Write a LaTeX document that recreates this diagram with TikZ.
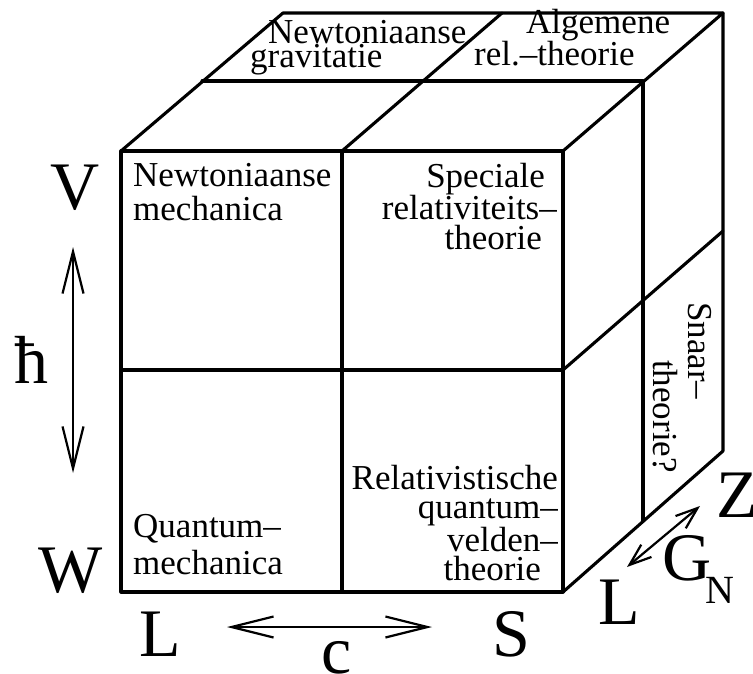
\documentclass[tikz,border=0pt]{standalone}
\usepackage{fontspec}
\setmainfont{Liberation Serif}
\usetikzlibrary{arrows.meta}
\begin{document}
\begin{tikzpicture}[x=1pt,y=-1pt,
  edge/.style={line width=3.1pt, line cap=round, line join=round},
  txt/.style={inner sep=0pt, font=\fontsize{35}{29}\selectfont},
  big/.style={inner sep=0pt, font=\fontsize{68}{68}\selectfont, anchor=base},
  bigarrow/.style={line width=2.2pt, {Straight Barb[length=42pt,width=21pt]}-{Straight Barb[length=42pt,width=21pt]}},
  smallarrow/.style={line width=2.2pt, {Straight Barb[length=22pt,width=16pt]}-{Straight Barb[length=22pt,width=16pt]}},
]
\useasboundingbox (0,0) rectangle (753,674);
% cube corners
\coordinate (ftl) at (121,151);
\coordinate (ftm) at (342,151);
\coordinate (ftr) at (563,151);
\coordinate (fml) at (121,370);
\coordinate (fmr) at (563,370);
\coordinate (fbl) at (121,592);
\coordinate (fbm) at (342,592);
\coordinate (fbr) at (563,592);
\coordinate (mtl) at (202,81);
\coordinate (mtr) at (643,81);
\coordinate (mbr) at (643,521);
\coordinate (btl) at (283,13);
\coordinate (btm) at (502,13);
\coordinate (btr) at (723,13);
\coordinate (bmr) at (723,231);
\coordinate (bbr) at (723,451);
% front face
\draw[edge] (ftl) rectangle (fbr);
\draw[edge] (ftm) -- (fbm);
\draw[edge] (fml) -- (fmr);
% top face
\draw[edge] (ftl) -- (btl) -- (btr) -- (ftr);
\draw[edge] (ftm) -- (btm);
\draw[edge] (mtl) -- (mtr);
% right face
\draw[edge] (btr) -- (bbr) -- (fbr);
\draw[edge] (mtr) -- (mbr);
\draw[edge] (fmr) -- (bmr);
% cell texts (anchored at the baseline of the last line)
\node[txt, anchor=base west, align=left, font=\fontsize{35}{35}\selectfont] (nm) at (133,221) {Newtoniaanse\\mechanica};
\node[txt, anchor=base east, align=right] (srt) at (557,249) {Speciale\hspace*{12pt}\\relativiteits–\\theorie\hspace*{15pt}};
\node[txt, anchor=base west, align=left, font=\fontsize{35}{37}\selectfont] (qm) at (133,574) {Quantum–\\mechanica};
\node[txt, anchor=base east, align=right] (rqv) at (558,580) {Relativistische\\quantum–\\velden–\hspace*{10pt}\\theorie\hspace*{17pt}};
\node[txt, anchor=base west, align=left, font=\fontsize{35}{23}\selectfont] (ng) at (250,68) {\hspace*{18pt}Newtoniaanse\\gravitatie};
\node[txt, anchor=base west, align=left, font=\fontsize{35}{26}\selectfont] (ar) at (474,66) {\hspace*{52pt}Algemene\\rel.–theorie};
\node[txt, rotate=-90, anchor=base west, align=left, font=\fontsize{35}{35}\selectfont] (st) at (653,302) {Snaar–\\\hspace*{58pt}theorie?};
% axis letters
\node[big] (V) at (75,210) {V};
\node[big] (W) at (71,592) {W};
\node[big] (hb) at (32,383) {ħ};
\node[big] (L1) at (160,656) {L};
\node[big] (S) at (511,656) {S};
\node[big] (c) at (337,673) {c};
\node[big] (Z) at (737,517) {Z};
\node[big] (L2) at (619,624) {L};
\node[big] (G) at (687,580) {G};
\node[big, font=\fontsize{40}{40}\selectfont] (N) at (720,603) {N};
% arrows
\coordinate (ha) at (73,247);
\coordinate (hb2) at (73,473);
\coordinate (ca) at (227,627);
\coordinate (cb) at (432,627);
\coordinate (ga) at (627,567);
\coordinate (gb) at (700,506);
\draw[bigarrow] (ha) -- (hb2);
\draw[bigarrow] (ca) -- (cb);
\draw[smallarrow] (ga) -- (gb);
\end{tikzpicture}
\end{document}
